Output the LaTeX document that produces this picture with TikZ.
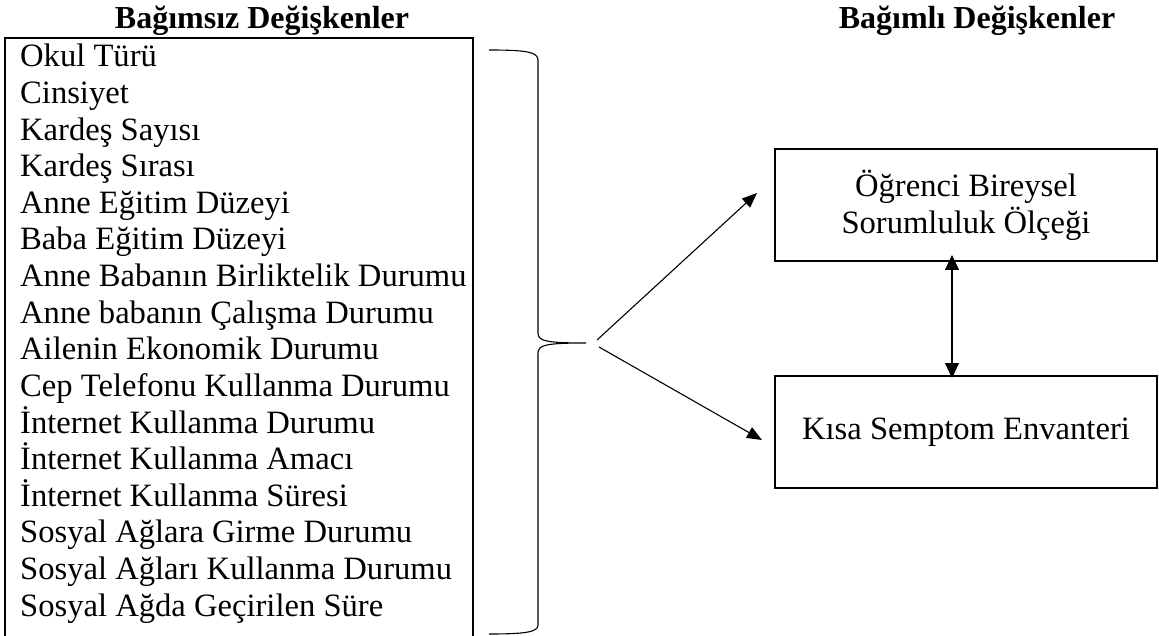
\documentclass[tikz,border=0pt]{standalone}
\usepackage{fontspec}
\setmainfont{Liberation Serif}
\usetikzlibrary{arrows.meta}
\begin{document}
\begin{tikzpicture}[x=1pt,y=-1pt,
  title/.style={font=\fontsize{32}{37}\selectfont\bfseries, anchor=base, inner sep=0pt},
  item/.style={font=\fontsize{32.6}{37}\selectfont, anchor=base west, inner sep=0pt},
  dvbox/.style={draw, line width=2pt, minimum width=382pt, minimum height=112pt, align=center, font=\fontsize{32.6}{37}\selectfont, inner sep=0pt},
  thinarrow/.style={line width=1.1pt, -{Triangle[length=15pt,width=12pt]}},
  dblarrow/.style={line width=1.1pt, {Triangle[length=15pt,width=14pt]}-{Triangle[length=15pt,width=14pt]}},
  bracestyle/.style={line width=1.1pt}]
\useasboundingbox (0,0) rectangle (1159,636);
\clip (0,0) rectangle (1159,636);
% titles
\node[title] (t1) at (262,29) {Bağımsız Değişkenler};
\node[title] (t2) at (977,29) {Bağımlı Değişkenler};
% left box
\draw[line width=2pt] (5,640) -- (5,38) -- (473,38) -- (473,640);
\foreach \txt [count=\i from 0] in {Okul Türü, Cinsiyet, Kardeş Sayısı, Kardeş Sırası, Anne Eğitim Düzeyi, Baba Eğitim Düzeyi, Anne Babanın Birliktelik Durumu, Anne babanın Çalışma Durumu, Ailenin Ekonomik Durumu, Cep Telefonu Kullanma Durumu, İnternet Kullanma Durumu, İnternet Kullanma Amacı, İnternet Kullanma Süresi, Sosyal Ağlara Girme Durumu, Sosyal Ağları Kullanma Durumu, Sosyal Ağda Geçirilen Süre}
  \node[item] (item\i) at (20,{67+\i*36.6}) {\txt};
% brace
\coordinate (tip) at (586,343);
\draw[bracestyle] (489,50) .. controls (526,50) and (538,52) .. (538,60) -- (538,333)
  .. controls (538,341) and (546,343) .. (tip)
  .. controls (546,343) and (538,345) .. (538,353) -- (538,625)
  .. controls (538,632) and (526,634) .. (489,634);
% right boxes
\node[dvbox] (b1) at (966,205) {Öğrenci Bireysel\\Sorumluluk Ölçeği};
\node[dvbox] (b2) at (966,432) {Kısa Semptom Envanteri};
% arrows
\coordinate (s1) at (597,340);
\coordinate (s2) at (599,347);
\coordinate (e1) at (757,193);
\coordinate (e2) at (762,440);
\draw[thinarrow] (s1) -- (e1);
\draw[thinarrow] (s2) -- (e2);
\draw[dblarrow] ([xshift=-14pt,yshift=7pt]b1.south) -- ([xshift=-14pt,yshift=-3pt]b2.north);
\end{tikzpicture}
\end{document}
